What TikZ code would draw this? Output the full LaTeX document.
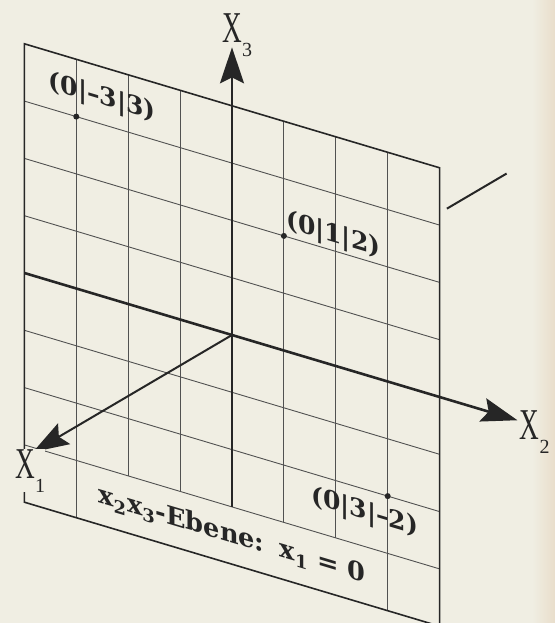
\documentclass[tikz,border=0pt]{standalone}
\usepackage{fontspec}
\newfontfamily\schildfont[Ligatures=TeX]{DejaVu Serif Bold}
\newfontfamily\achsfont{Liberation Serif}
\usepackage{xcolor}
\usetikzlibrary{arrows.meta, positioning}

\definecolor{paper}{RGB}{240,238,227}
\definecolor{ink}{RGB}{38,38,38}
\newcommand{\achse}[1]{\scalebox{0.62}[1]{X}\raisebox{-7pt}{\fontsize{10}{10}\selectfont #1}}

\begin{document}
\begin{tikzpicture}[
    x={(-19.9pt,-11.7pt)}, y={(25.95pt,-7.75pt)}, z={(0pt,28.65pt)},
    gridline/.style={draw=ink!80, line width=0.45pt},
    rand/.style={draw=ink, line width=0.8pt},
    axis/.style={draw=ink, line width=1.3pt, -{Stealth[length=18pt, width=12pt, inset=3pt]}},
    punkt/.style={circle, fill=ink, inner sep=0pt, minimum size=3pt},
    ptlabel/.style={font=\schildfont\fontsize{12.5}{14}\selectfont, text=ink, yslant=-0.299, inner sep=0pt},
    axlabel/.style={font=\achsfont\fontsize{22}{22}\selectfont, text=ink, inner sep=0pt}
]

% paper
\path[use as bounding box, fill=paper] (-116pt,167.5pt) rectangle (161.5pt,-144pt);
\shade[left color=paper, right color=paper!85!brown] (150pt,167.5pt) rectangle (161.5pt,-144pt);

% grid of the x2x3-plane
\foreach \j in {-3,3}
  \draw[gridline] (0,\j,-4) -- (0,\j,4);
\foreach \j in {-2,...,2}
  \draw[gridline] (0,\j,-3) -- (0,\j,4);
\foreach \k in {-3,...,3}
  \draw[gridline] (0,-4,\k) -- (0,4,\k);
\draw[rand] (0,-4,-4) -- (0,4,-4) -- (0,4,4) -- (0,-4,4) -- cycle;

% axes
\coordinate (O) at (0,0,0);
\coordinate (x1end) at (5,0,0);
\coordinate (x1back) at (-5.4,0,0);
\coordinate (x1far) at (-6.9,0,0);
\coordinate (x2start) at (0,-4,0);
\coordinate (x2end) at (0,5.5,0);
\coordinate (x3start) at (0,0,-3);
\coordinate (x3end) at (0,0,5.02);

\draw[axis] (x2start) -- (x2end);
\draw[axis] (x3start) -- (x3end);
\draw[axis, line width=1pt] (O) -- (x1end);
\draw[ink, line width=1pt] (x1back) -- (x1far);

\node[axlabel, anchor=base west, fill=paper] (X1) at ([xshift=-9pt, yshift=-13pt]x1end) {\achse{1}};
\node[axlabel, anchor=base west] (X2) at ([xshift=1pt, yshift=-9.5pt]x2end) {\achse{2}};
\node[axlabel, anchor=base west] (X3) at ([xshift=-5pt, yshift=2.5pt]x3end) {\achse{3}};

% points
\node[punkt] (P1) at (0,-3,3) {};
\node[punkt] (P2) at (0,1,2) {};
\node[punkt] (P3) at (0,3,-2) {};

\node[ptlabel] (L1) at (0,-2.5,3.46) {(0|--3|3)};
\node[ptlabel] (L2) at (0,1.95,2.27) {(0|1|2)};
\node[ptlabel] (L3) at (0,2.56,-2.41) {(0|3|--2)};

\node[ptlabel, font=\schildfont\fontsize{12.8}{15}\selectfont] (ebene) at (0,0,-3.5)
  {x\textsubscript{2}x\textsubscript{3}-Ebene:\hspace{0.6em}x\textsubscript{1} = 0};

\end{tikzpicture}
\end{document}
